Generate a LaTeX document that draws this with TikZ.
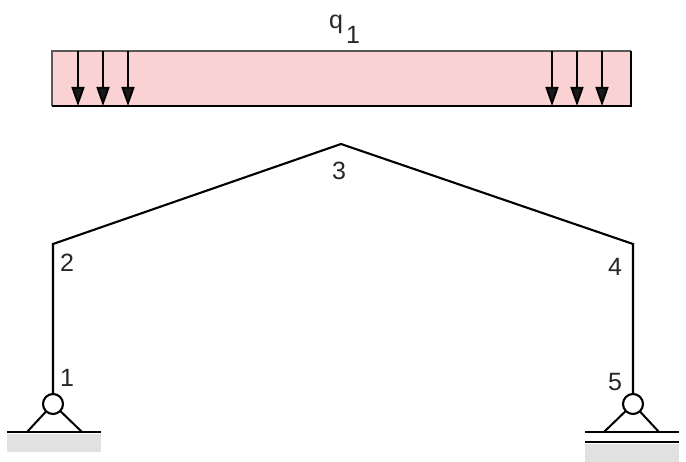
\documentclass[tikz,border=0pt]{standalone}
\usepackage{fontspec}
\setmainfont{Liberation Sans}
\usetikzlibrary{arrows.meta}
\definecolor{loadfill}{RGB}{251,210,212}
\definecolor{groundfill}{RGB}{225,225,225}
\tikzset{
  x=1pt,y=-1pt,
  member/.style={line width=2.1pt,line join=miter},
  pin/.style={circle,draw=black,fill=white,line width=2.1pt,minimum size=20pt,inner sep=0pt,outer sep=0pt},
  base/.style={line width=2pt},
  loadarrow/.style={line width=1.7pt,-{Triangle[length=19pt,width=13pt,fill=black!90]}},
  lbl/.style={font=\fontsize{25}{27}\selectfont,inner sep=0pt,text=black!85},
  ground/.style={fill=groundfill,draw=none},
}
\begin{document}
\begin{tikzpicture}
\useasboundingbox (0,0) rectangle (686,462);
% load block
\path[fill=loadfill] (52,51) rectangle (631,106);
\draw[line width=1.5pt,black!65] (52,106) -- (52,51) -- (631,51);
\draw[line width=1.7pt] (631,51) -- (631,106) -- (52,106);
\foreach \n/\x in {a/78,b/103,c/128,d/552,e/577,f/602}{
  \coordinate (t\n) at (\x,51);
  \coordinate (h\n) at (\x,106);
  \draw[loadarrow] (t\n) -- (h\n);
}
% frame
\coordinate (n1) at (53,404);
\coordinate (n2) at (53,244);
\coordinate (n3) at (341,144);
\coordinate (n4) at (633,244);
\coordinate (n5) at (633,404);
\draw[member] (n1) -- (n2) -- (n3) -- (n4) -- (n5);
% left support
\path[ground] (7,434) rectangle (101,452);
\coordinate (gl) at (7,432);
\coordinate (gr) at (101,432);
\coordinate (la) at (27,432);
\coordinate (lb) at (82,432);
\draw[base] (gl) -- (gr);
\draw[base] (n1) -- (la);
\draw[base] (n1) -- (lb);
\node[pin] (p1) at (n1) {};
% right support
\path[ground] (585,444) rectangle (679,462);
\coordinate (hl) at (585,432);
\coordinate (hr) at (679,432);
\coordinate (il) at (585,442);
\coordinate (ir) at (679,442);
\coordinate (ra) at (604,432);
\coordinate (rb) at (659,432);
\draw[base] (hl) -- (hr);
\draw[base] (il) -- (ir);
\draw[base] (n5) -- (ra);
\draw[base] (n5) -- (rb);
\node[pin] (p5) at (n5) {};
% labels
\node[lbl] (q) at (336,24) {q};
\node[lbl] (qi) at (353,35) {1};
\node[lbl] (l1) at (67,378) {1};
\node[lbl] (l2) at (67,263) {2};
\node[lbl] (l3) at (339,171) {3};
\node[lbl] (l4) at (615,267) {4};
\node[lbl] (l5) at (615,382) {5};
\end{tikzpicture}
\end{document}
